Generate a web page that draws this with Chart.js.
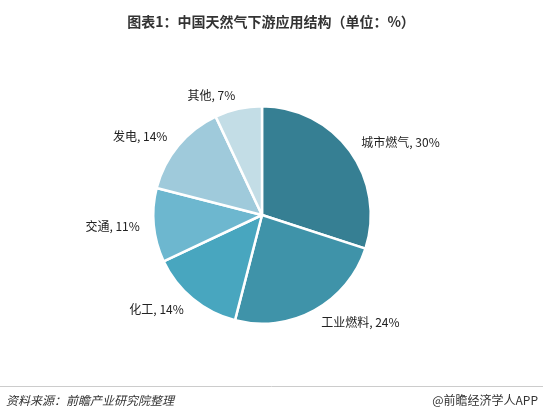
<!DOCTYPE html>
<html><head><meta charset="utf-8">
<script src="https://cdn.jsdelivr.net/npm/chart.js@4"></script>
<style>body{margin:0;background:#fff}#wrap{width:543px;height:418px;position:relative}</style>
</head><body>
<div id="wrap"><canvas id="c"></canvas></div>
<script>
const categories = ['城市燃气', '工业燃料', '化工', '交通', '发电', '其他']
const shares = [30, 24, 14, 11, 14, 7]
const colors = ['#367f93', '#3f93a9', '#48a6bf', '#6db7cf', '#9fcadb', '#c3dde6']
const FONT = '"Noto Sans CJK SC", sans-serif'

const decor = {
  id: 'decor',
  afterDraw(chart) {
    const ctx = chart.ctx
    ctx.save()
    ctx.fillStyle = '#333'
    ctx.font = 'bold 14px ' + FONT
    ctx.textAlign = 'center'
    ctx.textBaseline = 'middle'
    ctx.fillText('图表1：中国天然气下游应用结构（单位：%）', 271, 22)
    const arcs = chart.getDatasetMeta(0).data
    ctx.font = '12px ' + FONT
    ctx.fillStyle = '#222'
    arcs.forEach((a, i) => {
      const mid = (a.startAngle + a.endAngle) / 2
      const r = a.outerRadius + 14
      const x = a.x + Math.cos(mid) * r
      const y = a.y + Math.sin(mid) * r
      ctx.textAlign = Math.cos(mid) >= 0 ? 'left' : 'right'
      ctx.fillText(categories[i] + ', ' + shares[i] + '%', x, y)
    })
    ctx.strokeStyle = '#ccc'
    ctx.lineWidth = 1
    ctx.beginPath(); ctx.moveTo(0, 386.5); ctx.lineTo(543, 386.5); ctx.stroke()
    ctx.fillStyle = '#333'
    ctx.font = 'italic 12px ' + FONT
    ctx.textAlign = 'left'
    ctx.fillText('资料来源：前瞻产业研究院整理', 6, 400)
    ctx.font = '12px ' + FONT
    ctx.textAlign = 'right'
    ctx.fillText('@前瞻经济学人APP', 538, 400)
    ctx.restore()
  }
}

new Chart(document.getElementById('c'), {
  type: 'pie',
  data: {
    labels: categories,
    datasets: [{ data: shares, backgroundColor: colors, borderColor: '#fff', borderWidth: 2.5 }]
  },
  options: {
    responsive: true,
    maintainAspectRatio: false,
    animation: false,
    layout: { padding: { top: 105, bottom: 93, left: 152, right: 171 } },
    plugins: { legend: { display: false }, tooltip: { enabled: false } }
  },
  plugins: [decor]
})
</script>
</body></html>
